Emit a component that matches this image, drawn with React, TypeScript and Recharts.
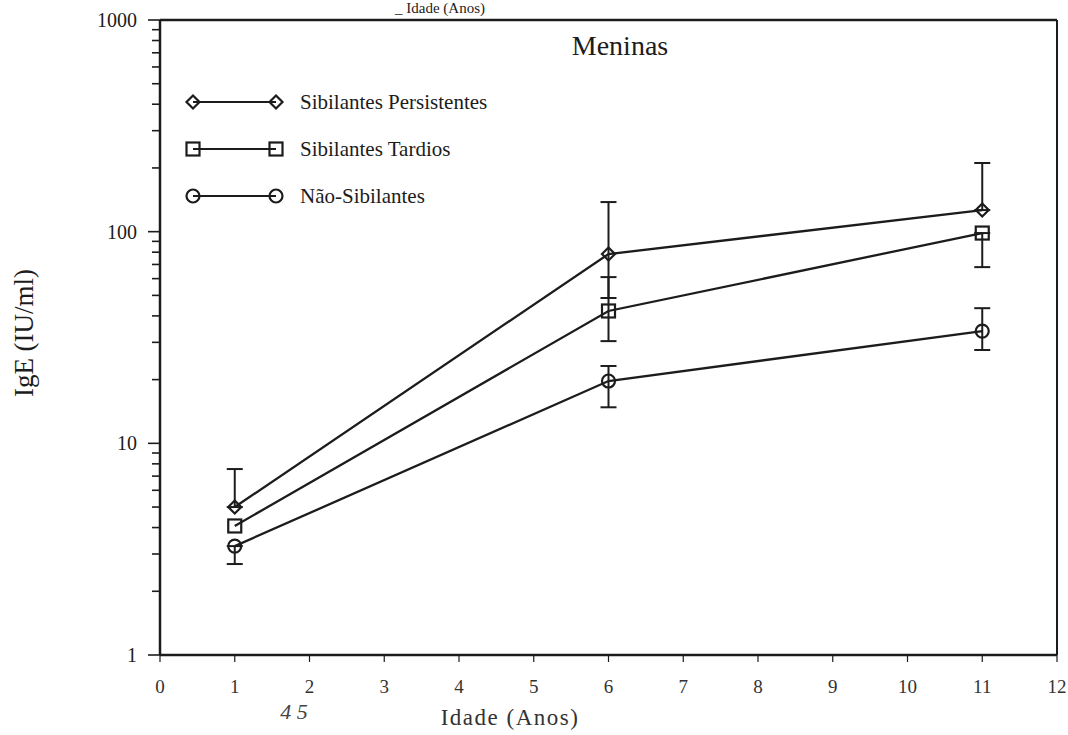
import React from "react";
import { LineChart, Line, XAxis, YAxis, ErrorBar, ReferenceLine } from "recharts";

// Idade (anos) em que o IgE foi medido
const ages = [1, 6, 11];

// IgE (IU/ml), meninas
const persistentes = [5.0, 78.4, 126.5];
const persistentesLow = [5.0, 48.6, 126.5];
const persistentesHigh = [7.56, 138, 211];

const tardios = [4.07, 42.2, 98.5];
const tardiosLow = [null, 30.4, 68];
const tardiosHigh = [null, 61, 98.5];

const naoSibilantes = [3.27, 19.7, 33.9];
const naoSibilantesLow = [2.69, 14.8, 27.6];
const naoSibilantesHigh = [3.27, 23.2, 43.5];

const xTicks = [0, 1, 2, 3, 4, 5, 6, 7, 8, 9, 10, 11, 12];
const yMajorTicks = [1, 10, 100, 1000];
const yMinorTicks = [
  2, 3, 4, 5, 6, 7, 8, 9,
  20, 30, 40, 50, 60, 70, 80, 90,
  200, 300, 400, 500, 600, 700, 800, 900,
];

const INK = "#1c1c1c";
const SERIF = "'Liberation Serif', 'DejaVu Serif', serif";

type Shape = "diamond" | "square" | "circle";

const series: { key: string; name: string; shape: Shape }[] = [
  { key: "per", name: "Sibilantes Persistentes", shape: "diamond" },
  { key: "tar", name: "Sibilantes Tardios", shape: "square" },
  { key: "nao", name: "Não-Sibilantes", shape: "circle" },
];

function errOf(v: number, lo: number | null, hi: number | null) {
  if (lo == null || hi == null) return undefined;
  return [v - lo, hi - v];
}

const data = ages.map((age, i) => ({
  age,
  per: persistentes[i],
  perErr: errOf(persistentes[i], persistentesLow[i], persistentesHigh[i]),
  tar: tardios[i],
  tarErr: errOf(tardios[i], tardiosLow[i], tardiosHigh[i]),
  nao: naoSibilantes[i],
  naoErr: errOf(naoSibilantes[i], naoSibilantesLow[i], naoSibilantesHigh[i]),
}));

function Marker({ shape, cx, cy }: { shape: Shape; cx: number; cy: number }) {
  if (cx == null || cy == null) return null;
  if (shape === "diamond") {
    return (
      <polygon
        points={`${cx},${cy - 6.5} ${cx + 6.5},${cy} ${cx},${cy + 6.5} ${cx - 6.5},${cy}`}
        fill="none"
        stroke={INK}
        strokeWidth={2.2}
      />
    );
  }
  if (shape === "square") {
    return (
      <rect x={cx - 6.5} y={cy - 6.5} width={13} height={13} fill="none" stroke={INK} strokeWidth={2.2} />
    );
  }
  return <circle cx={cx} cy={cy} r={6.5} fill="none" stroke={INK} strokeWidth={2.2} />;
}

function XTick(props: any) {
  const { x, y, payload } = props;
  return (
    <g>
      <line x1={x} x2={x} y1={y} y2={y + 7} stroke={INK} strokeWidth={1.2} />
      <text x={x} y={y + 31} dy="0.35em" textAnchor="middle" fontSize={19} fill="#333" fontFamily={SERIF}>
        {payload.value}
      </text>
    </g>
  );
}

function YTick(props: any) {
  const { x, y, payload } = props;
  const major = yMajorTicks.includes(payload.value);
  return (
    <g>
      <line x1={x - (major ? 12 : 8)} x2={x} y1={y} y2={y} stroke={INK} strokeWidth={1.6} />
      {major && (
        <text x={x - 23} y={y} dy="0.35em" textAnchor="end" fontSize={20} fill={INK} fontFamily={SERIF}>
          {payload.value}
        </text>
      )}
    </g>
  );
}

function LegendBox() {
  return (
    <g transform="translate(185, 85)">
      {series.map((s, i) => {
        const y = 17 + i * 47;
        return (
          <g key={s.key}>
            <line x1={8} x2={91} y1={y} y2={y} stroke={INK} strokeWidth={2.2} />
            <Marker shape={s.shape} cx={8} cy={y} />
            <Marker shape={s.shape} cx={91} cy={y} />
            <text x={115} y={y} dy="0.35em" fontSize={21} fill={INK} fontFamily={SERIF}>
              {s.name}
            </text>
          </g>
        );
      })}
    </g>
  );
}

export default function App() {
  return (
    <div
      style={{
        position: "absolute",
        left: 0,
        top: 0,
        width: 1068,
        height: 735,
        background: "#fff",
        overflow: "hidden",
        fontFamily: SERIF,
      }}
    >
      <LineChart width={1068} height={735} data={data} margin={{ top: 20, right: 11, bottom: 0, left: 0 }}>
        <XAxis
          dataKey="age"
          type="number"
          domain={[0, 12]}
          ticks={xTicks}
          interval={0}
          height={80}
          axisLine={{ stroke: INK, strokeWidth: 2.5 }}
          tickLine={false}
          tickSize={0}
          tickMargin={0}
          tick={<XTick />}
        />
        <YAxis
          scale="log"
          domain={[1, 1000]}
          allowDataOverflow
          ticks={[...yMajorTicks, ...yMinorTicks].sort((a, b) => a - b)}
          interval={0}
          width={160}
          axisLine={{ stroke: INK, strokeWidth: 2.5 }}
          tickLine={false}
          tickSize={0}
          tickMargin={0}
          tick={<YTick />}
        />
        <ReferenceLine y={1000} stroke={INK} strokeWidth={2.5} />
        <ReferenceLine x={12} stroke={INK} strokeWidth={2} />
        {series.map((s) => (
          <Line
            key={s.key}
            dataKey={s.key}
            name={s.name}
            type="linear"
            stroke={INK}
            strokeWidth={2.3}
            isAnimationActive={false}
            activeDot={false}
            dot={(p: any) => <Marker key={`${s.key}-${p.index}`} shape={s.shape} cx={p.cx} cy={p.cy} />}
          >
            <ErrorBar dataKey={`${s.key}Err`} width={8} strokeWidth={2} stroke={INK} direction="y" />
          </Line>
        ))}
      </LineChart>

      <svg
        width={1068}
        height={735}
        style={{ position: "absolute", left: 0, top: 0, pointerEvents: "none" }}
      >
        <LegendBox />
        <text x={620} y={45} dy="0.35em" textAnchor="middle" fontSize={28} fill={INK} fontFamily={SERIF}>
          Meninas
        </text>
        <text
          x={24}
          y={333}
          dy="0.35em"
          textAnchor="middle"
          fontSize={27}
          fill={INK}
          fontFamily={SERIF}
          transform="rotate(-90 24 333)"
        >
          IgE (IU/ml)
        </text>
        <text
          x={510}
          y={717}
          dy="0.35em"
          textAnchor="middle"
          fontSize={23}
          letterSpacing={1.5}
          fill="#333"
          fontFamily={SERIF}
        >
          Idade (Anos)
        </text>
        <text x={294} y={711} dy="0.35em" textAnchor="middle" fontSize={22} fontStyle="italic" fill="#444" fontFamily={SERIF}>
          4 5
        </text>
        <text x={440} y={8} dy="0.35em" textAnchor="middle" fontSize={15} fill={INK} fontFamily={SERIF}>
          _ Idade (Anos)
        </text>
      </svg>
    </div>
  );
}
